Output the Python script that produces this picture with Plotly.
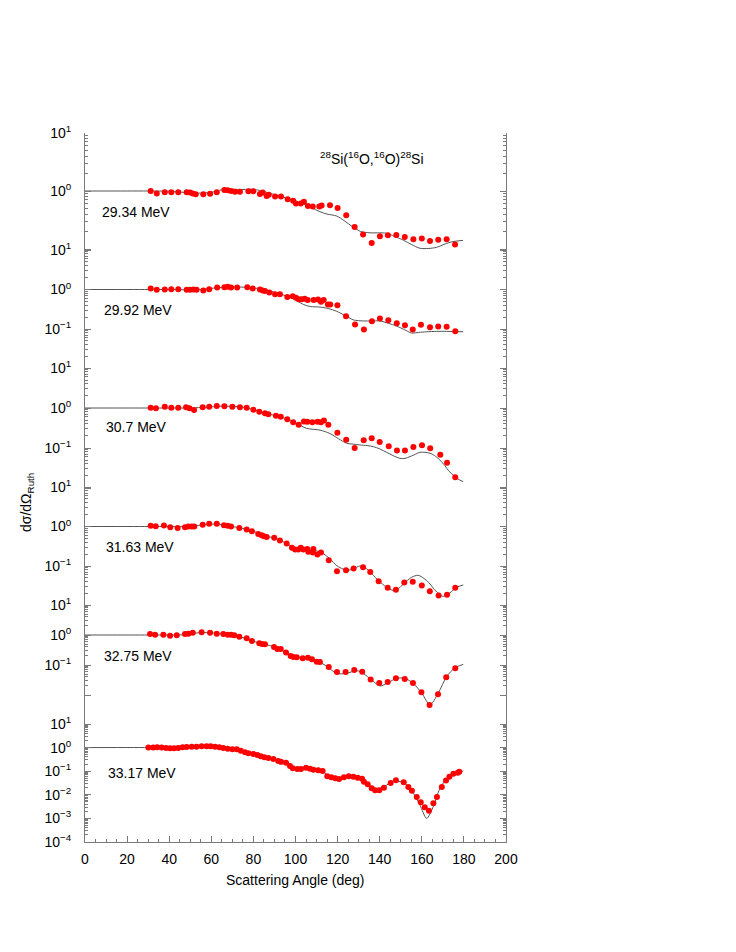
import plotly.graph_objects as go

# ---------------- data ----------------
energies = ["29.34 MeV", "29.92 MeV", "30.7 MeV", "31.63 MeV", "32.75 MeV", "33.17 MeV"]

# 29.34 MeV
ang_2934 = [31.2, 34.1, 37.9, 41.0, 44.3, 48.3, 49.9, 51.2, 52.6, 56.2, 59.4, 62.6, 66.2, 67.8, 69.4, 71.3, 73.6, 77.6,
            80.0, 83.1, 84.4, 86.3, 87.3, 90.3, 93.1, 96.3, 98.9, 100.2, 102.5, 104.0, 105.9, 108.2, 111.3, 112.4, 116.4,
            120.0, 124.1, 128.1, 132.1, 136.2, 140.1, 143.9, 147.9, 151.9, 156.0, 160.0, 163.9, 167.8, 171.8, 175.8]
sig_2934 = [1.00, 0.91, 0.95, 0.95, 0.95, 0.95, 0.94, 0.91, 0.88, 0.88, 0.90, 0.95, 1.04, 1.03, 1.00, 0.97, 0.97, 0.99,
            0.99, 0.89, 0.94, 0.82, 0.86, 0.80, 0.80, 0.72, 0.68, 0.61, 0.61, 0.65, 0.55, 0.54, 0.54, 0.56, 0.57,
            0.51, 0.38, 0.24, 0.177, 0.127, 0.166, 0.172, 0.174, 0.161, 0.147, 0.151, 0.137, 0.145, 0.147, 0.119]
th_ang_2934 = [0, 20, 30, 40, 50, 55, 60, 65, 70, 75, 80, 84, 88, 92, 95.8, 100, 103.6, 107.4, 111.6, 115, 119.6, 123,
               127.3, 131, 135.4, 139, 143.3, 147, 151.1, 155, 159.1, 163, 167.1, 171, 174.8, 179.6]
th_sig_2934 = [1.0, 1.0, 1.0, 0.99, 0.93, 0.92, 0.95, 1.05, 1.07, 1.06, 1.07, 1.0, 0.91, 0.83, 0.75, 0.66, 0.60, 0.52,
               0.44, 0.40, 0.37, 0.31, 0.24, 0.20, 0.19, 0.19, 0.187, 0.165, 0.143, 0.12, 0.103, 0.102, 0.107, 0.122,
               0.134, 0.141]

# 29.92 MeV
ang_2992 = [31.2, 34.1, 37.9, 41.0, 44.3, 48.3, 49.9, 51.5, 53.0, 56.2, 59.0, 62.8, 66.2, 67.8, 69.4, 72.3, 77.1,
            79.7, 83.1, 84.4, 85.5, 87.6, 90.3, 92.6, 96.1, 98.7, 100.2, 101.5, 102.9, 104.4, 105.8, 108.6, 110.7,
            112.1, 113.4, 115.4, 116.5, 119.9, 124.0, 128.3, 132.5, 136.3, 140.1, 144.1, 148.1, 152.0, 155.7, 159.6,
            163.9, 167.8, 171.8, 175.9]
sig_2992 = [1.06, 0.98, 1.00, 1.02, 1.02, 0.98, 0.98, 1.00, 0.98, 0.94, 1.02, 1.12, 1.14, 1.17, 1.12, 1.12, 1.14,
            1.06, 1.00, 0.94, 0.91, 0.84, 0.76, 0.76, 0.65, 0.67, 0.62, 0.57, 0.57, 0.58, 0.54, 0.54, 0.56,
            0.49, 0.54, 0.42, 0.42, 0.40, 0.21, 0.13, 0.097, 0.157, 0.185, 0.167, 0.140, 0.125, 0.097, 0.128,
            0.111, 0.116, 0.114, 0.088]
th_ang_2992 = [0, 30, 40, 50, 55, 60, 65, 70, 75, 80, 85, 90, 95.8, 99, 103.7, 107, 111.6, 115.5, 119.6, 123.5, 127.5,
               132.2, 136, 140.1, 144, 148.1, 152, 155.2, 158.5, 162.3, 167, 171.8, 175, 179.7]
th_sig_2992 = [1.0, 1.0, 1.0, 0.98, 0.99, 1.07, 1.12, 1.15, 1.15, 1.10, 1.0, 0.85, 0.68, 0.58, 0.42, 0.37, 0.36, 0.33,
               0.28, 0.22, 0.17, 0.16, 0.16, 0.16, 0.14, 0.118, 0.095, 0.079, 0.082, 0.085, 0.087, 0.087, 0.086, 0.085]

# 30.7 MeV
ang_3070 = [31.2, 33.7, 37.9, 41.0, 44.3, 48.0, 49.6, 51.8, 55.9, 59.0, 62.6, 66.2, 70.0, 73.6, 76.8, 80.0, 82.8, 85.5,
            87.1, 90.7, 93.0, 96.1, 98.9, 101.5, 104.0, 105.6, 108.0, 110.5, 112.1, 113.5, 115.6, 119.9, 124.1, 128.1,
            132.4, 136.2, 140.0, 144.3, 148.2, 152.0, 156.0, 160.1, 164.0, 168.8, 172.0, 175.9]
sig_3070 = [1.02, 0.98, 1.08, 1.02, 1.02, 1.04, 0.98, 0.89, 1.04, 1.08, 1.12, 1.10, 1.08, 1.04, 1.02, 0.91, 0.81, 0.74,
            0.70, 0.64, 0.60, 0.52, 0.44, 0.38, 0.46, 0.45, 0.44, 0.45, 0.44, 0.49, 0.38, 0.24, 0.161, 0.100,
            0.156, 0.175, 0.141, 0.110, 0.087, 0.087, 0.106, 0.117, 0.098, 0.068, 0.043, 0.0185]
th_ang_3070 = [0, 30, 40, 50, 55, 60, 65, 70, 75, 80, 85, 90, 95, 100, 105.3, 111.6, 116.4, 120.5, 124.3, 127.5, 130.6,
               134, 137, 140, 143.3, 146.5, 149.6, 152, 154.4, 157, 159.1, 161.5, 163.9, 166, 168.6, 171, 173, 175,
               177, 179.7]
th_sig_3070 = [1.0, 1.0, 1.0, 1.0, 1.03, 1.07, 1.11, 1.10, 1.05, 0.91, 0.76, 0.65, 0.55, 0.42, 0.31, 0.28, 0.23, 0.17,
               0.131, 0.125, 0.119, 0.115, 0.108, 0.095, 0.078, 0.064, 0.055, 0.055, 0.061, 0.070, 0.078, 0.078,
               0.074, 0.065, 0.050, 0.036, 0.026, 0.021, 0.017, 0.0144]

# 31.63 MeV
ang_3163 = [31.2, 33.6, 37.5, 40.5, 44.0, 47.5, 49.1, 50.7, 51.9, 55.9, 59.0, 62.6, 66.0, 67.8, 69.4, 73.3, 76.8,
            79.3, 82.3, 83.9, 85.0, 86.3, 89.9, 92.6, 95.8, 98.3, 99.8, 101.3, 102.5, 103.7, 105.6, 106.1, 108.5,
            108.2, 110.4, 112.1, 115.8, 119.7, 124.0, 127.6, 132.1, 135.5, 139.5, 143.8, 147.7, 151.7, 155.7, 160.0,
            163.8, 168.0, 172.0, 175.9]
sig_3163 = [1.04, 1.02, 1.06, 0.96, 0.91, 0.96, 1.00, 1.00, 1.00, 1.10, 1.17, 1.17, 1.08, 1.04, 1.00, 0.91, 0.84,
            0.76, 0.65, 0.60, 0.57, 0.54, 0.52, 0.44, 0.37, 0.29, 0.26, 0.26, 0.29, 0.26, 0.27, 0.23, 0.27,
            0.22, 0.195, 0.22, 0.140, 0.074, 0.078, 0.086, 0.093, 0.071, 0.041, 0.028, 0.025, 0.038, 0.040, 0.032,
            0.023, 0.0179, 0.0187, 0.028]
th_ang_3163 = [0, 30, 40, 50, 55, 60, 65, 70, 75, 80, 85, 90, 95, 100, 105, 111.6, 116.4, 119.6, 124.3, 127.5, 130.6,
               133.8, 136.5, 139.3, 143.3, 146.5, 149, 151.2, 155.2, 158.3, 162.3, 167.1, 170.2, 173.4, 176.6, 179.7]
th_sig_3163 = [1.0, 1.0, 1.0, 1.0, 1.08, 1.15, 1.12, 1.0, 0.89, 0.76, 0.59, 0.51, 0.39, 0.28, 0.25, 0.23, 0.151,
               0.102, 0.078, 0.085, 0.10, 0.085, 0.062, 0.043, 0.029, 0.024, 0.027, 0.035, 0.052, 0.058, 0.043,
               0.022, 0.017, 0.021, 0.029, 0.033]

# 32.75 MeV
ang_3275 = [30.9, 33.3, 37.2, 40.4, 43.6, 47.5, 49.1, 51.2, 55.4, 59.4, 62.6, 65.7, 67.8, 69.4, 70.9, 73.3, 76.8,
            79.3, 82.8, 84.1, 85.5, 89.8, 91.4, 93.0, 95.5, 97.7, 99.0, 100.6, 103.4, 105.9, 107.8, 110.1, 111.6,
            115.8, 119.7, 123.8, 127.9, 131.7, 135.7, 139.8, 143.8, 147.7, 151.9, 155.8, 159.8, 163.7, 167.7, 171.6,
            175.9]
sig_3275 = [1.08, 1.02, 1.02, 0.95, 0.98, 1.08, 1.10, 1.19, 1.23, 1.19, 1.10, 1.08, 1.02, 1.02, 0.98, 0.88, 0.78,
            0.63, 0.53, 0.50, 0.49, 0.40, 0.34, 0.34, 0.26, 0.20, 0.185, 0.181, 0.167, 0.175, 0.155, 0.129, 0.126,
            0.086, 0.058, 0.058, 0.068, 0.060, 0.033, 0.025, 0.027, 0.036, 0.034, 0.025, 0.0123, 0.0046, 0.0105,
            0.039, 0.078]
th_ang_3275 = [0, 30, 40, 45, 50, 55, 60, 65, 70, 75, 80, 85, 90, 95, 100, 105, 110, 114, 119.6, 124.3, 129.1, 132.2,
               136.2, 140.1, 144.1, 148.1, 152, 156, 160, 163.9, 167.8, 171.8, 175.8, 179.7]
th_sig_3275 = [1.0, 1.0, 1.0, 1.0, 1.1, 1.2, 1.18, 1.1, 1.0, 0.82, 0.62, 0.50, 0.40, 0.27, 0.19, 0.17, 0.135, 0.10,
               0.052, 0.053, 0.065, 0.052, 0.032, 0.020, 0.026, 0.036, 0.036, 0.024, 0.0115, 0.0047, 0.0115, 0.041,
               0.081, 0.105]

# 33.17 MeV
ang_3317 = [30.1, 32.4, 34.3, 36.4, 38.5, 40.4, 42.3, 44.3, 46.4, 48.3, 50.7, 53.0, 55.4, 57.8, 59.7, 61.8, 63.8,
            65.7, 67.8, 70.0, 72.1, 74.0, 76.0, 77.6, 80.0, 81.9, 83.5, 85.2, 87.1, 89.5, 91.8, 93.1, 95.5, 97.4,
            98.7, 100.9, 102.6, 105.0, 106.9, 108.5, 110.8, 112.9, 115.1, 117.0, 118.9, 120.7, 123.0, 125.3, 127.5,
            129.5, 131.6, 132.5, 134.3, 136.2, 137.8, 139.8, 142.0, 145.2, 147.7, 151.4, 153.6, 155.3, 157.6, 159.5,
            161.4, 163.4, 165.5, 167.2, 169.5, 171.5, 173.1, 175.0, 177.1, 177.8]
sig_3317 = [1.00, 1.00, 1.03, 1.00, 0.96, 0.93, 0.93, 0.96, 1.03, 1.06, 1.09, 1.09, 1.13, 1.13, 1.13, 1.09, 1.03,
            0.96, 0.90, 0.85, 0.85, 0.74, 0.63, 0.57, 0.54, 0.49, 0.43, 0.39, 0.36, 0.33, 0.27, 0.25, 0.23, 0.166,
            0.133, 0.124, 0.124, 0.141, 0.128, 0.116, 0.109, 0.102, 0.061, 0.055, 0.050, 0.047, 0.055, 0.061, 0.058,
            0.053, 0.048, 0.036, 0.028, 0.0188, 0.0155, 0.0155, 0.020, 0.0316, 0.041, 0.034, 0.0214, 0.0149, 0.0081,
            0.0048, 0.0030, 0.0021, 0.0044, 0.0081, 0.0214, 0.040, 0.058, 0.078, 0.086, 0.095]
th_ang_3317 = [0, 30, 40, 45, 50, 55, 60, 65, 70, 75, 80, 85, 90, 95, 100, 105, 110, 113, 116, 120, 124, 128, 132,
               135, 138.6, 142, 146.5, 149, 151.2, 155, 159.1, 162.3, 165.5, 168.6, 172, 175, 179.7]
th_sig_3317 = [1.0, 1.0, 0.95, 0.97, 1.07, 1.12, 1.12, 0.98, 0.86, 0.68, 0.54, 0.40, 0.32, 0.23, 0.13, 0.135, 0.11,
               0.095, 0.06, 0.048, 0.057, 0.055, 0.042, 0.025, 0.0178, 0.022, 0.038, 0.037, 0.034, 0.016, 0.0037,
               0.0010, 0.0032, 0.0186, 0.050, 0.080, 0.102]

# tick labels shown on the left axis for each panel (decade exponents)
panel_label_exps = [[1, 0], [1, 0, -1], [1, 0, -1], [1, 0, -1], [1, 0, -1], [1, 0, -1, -2, -3, -4]]
panel_tick_exps = [[1, 0, -1], [1, 0, -1, -2], [1, 0, -1, -2], [1, 0, -1, -2], [1, 0, -1, -2], [1, 0, -1, -2, -3, -4]]

x_ticks = [0, 20, 40, 60, 80, 100, 120, 140, 160, 180, 200]

# ---------------- layout geometry ----------------
W, H = 736, 952
OFF = 8  # page body margin offset
L, R, T, B = 85, 506, 133, 842  # plot box in screenshot pixels
PH = B - T
# pixel row of 10^1 and pixels per decade, per panel
panel_top_px = [133, 250, 368, 487, 605, 724]
panel_decade_px = [58, 39.5, 40, 39.5, 30, 23.6]

data_sets = [
    (ang_2934, sig_2934, th_ang_2934, th_sig_2934),
    (ang_2992, sig_2992, th_ang_2992, th_sig_2992),
    (ang_3070, sig_3070, th_ang_3070, th_sig_3070),
    (ang_3163, sig_3163, th_ang_3163, th_sig_3163),
    (ang_3275, sig_3275, th_ang_3275, th_sig_3275),
    (ang_3317, sig_3317, th_ang_3317, th_sig_3317),
]

AXC = "#7a7a7a"
FONT = "Liberation Sans, Arial, Helvetica, sans-serif"

def sup(e):
    s = str(e).replace("-", "\u2212")
    return f"10<sup>{s}</sup>"

fig = go.Figure()
for i, (ax, ay, tx, ty) in enumerate(data_sets):
    yname = "y" if i == 0 else f"y{i+1}"
    fig.add_trace(go.Scatter(x=tx, y=ty, mode="lines", yaxis=yname, xaxis="x",
                             line=dict(color="#555555", width=1, shape="spline", smoothing=0.8),
                             hoverinfo="skip", cliponaxis=True))
    fig.add_trace(go.Scatter(x=ax, y=ay, mode="markers", yaxis=yname, xaxis="x",
                             marker=dict(color="#ff0000", size=6, line=dict(width=0)), cliponaxis=True))

layout = dict(
    width=W, height=H,
    margin=dict(l=L - OFF, r=W - R + OFF, t=T - OFF, b=H - B + OFF, pad=0),
    paper_bgcolor="white", plot_bgcolor="white",
    showlegend=False,
    font=dict(family=FONT, size=14, color="black"),
    xaxis=dict(range=[0, 200], tickmode="array", tickvals=x_ticks, ticktext=[str(v) for v in x_ticks],
               ticks="inside", ticklen=6, tickwidth=1, tickcolor=AXC,
               showline=True, linecolor=AXC, linewidth=1, mirror=False,
               showgrid=False, zeroline=False, ticklabelstandoff=4,
               minor=dict(tickmode="linear", tick0=0, dtick=5, ticks="inside", ticklen=3, tickcolor=AXC),
               tickfont=dict(size=14)),
    xaxis2=dict(range=[0, 200], overlaying="x", side="top", anchor="y", tickmode="linear", tick0=0, dtick=25,
                ticks="inside", ticklen=6, tickcolor=AXC, showticklabels=False,
                showline=True, linecolor=AXC, linewidth=1, showgrid=False, zeroline=False),
)

for i in range(6):
    key = "yaxis" if i == 0 else f"yaxis{i+1}"
    ytop = panel_top_px[i]
    d = panel_decade_px[i]
    hi = 1 + (ytop - T) / d
    lo = 1 - (B - ytop) / d
    tick_exps = panel_tick_exps[i]
    tickvals = [10.0 ** e for e in tick_exps]
    ticktext = [sup(e) if e in panel_label_exps[i] else "" for e in tick_exps]
    minor_vals = []
    for e in tick_exps[1:]:
        for m in range(2, 10):
            minor_vals.append(m * 10.0 ** e)
    ax = dict(type="log", range=[lo, hi], domain=[0, 1], anchor="x",
              tickmode="array", tickvals=tickvals, ticktext=ticktext,
              ticks="inside", ticklen=6, tickwidth=1, tickcolor=AXC,
              showline=True, linecolor=AXC, linewidth=1, mirror="ticks",
              showgrid=False, zeroline=False, ticklabelstandoff=10,
              minor=dict(tickmode="array", tickvals=minor_vals, ticks="inside", ticklen=3, tickcolor=AXC),
              tickfont=dict(size=14))
    if i > 0:
        ax["overlaying"] = "y"
    layout[key] = ax

fig.update_layout(**layout)

# energy labels (positions in screenshot pixels)
label_px = [(100, 212), (102, 310), (104, 427), (104, 547), (102, 656), (106, 773)]
for txt, (px, py) in zip(energies, label_px):
    fig.add_annotation(text=txt, xref="paper", yref="paper",
                       x=(px - L) / (R - L), y=(B - py) / PH, xanchor="left", yanchor="middle",
                       showarrow=False, font=dict(size=14, family=FONT))

# reaction title
fig.add_annotation(text="<sup>28</sup>Si(<sup>16</sup>O,<sup>16</sup>O)<sup>28</sup>Si",
                   xref="paper", yref="paper", x=(372 - L) / (R - L), y=(B - 158) / PH,
                   xanchor="center", yanchor="middle", showarrow=False, font=dict(size=14, family=FONT))

# axis titles
fig.add_annotation(text="d\u03c3/d\u03a9<sub>Ruth</sub>", xref="paper", yref="paper",
                   x=(27 - L) / (R - L), y=(B - 503) / PH, textangle=-90,
                   xanchor="center", yanchor="middle", showarrow=False, font=dict(size=14, family=FONT))
fig.add_annotation(text="Scattering Angle (deg)", xref="paper", yref="paper",
                   x=0.5, y=(B - 880) / PH, xanchor="center", yanchor="middle",
                   showarrow=False, font=dict(size=14, family=FONT))

fig.write_html("out.html")
